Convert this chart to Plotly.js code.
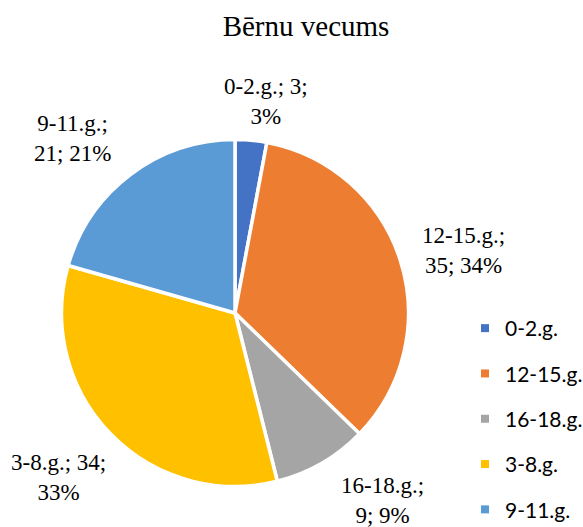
<!DOCTYPE html>
<html>
<head>
<meta charset="utf-8">
<script src="https://cdn.plot.ly/plotly-3.0.1.min.js"></script>
<style>html,body{margin:0;padding:0;background:#fff;}#chart{width:583px;height:527px;}</style>
</head>
<body>
<div id="chart"></div>
<script>
// Data
const categories = ["0-2.g.", "12-15.g.", "16-18.g.", "3-8.g.", "9-11.g."];
const values = [3, 35, 9, 34, 21];
// Label line break: after 'value' or after 'name'
const labelBreaks = ["value", "name", "name", "value", "name"];
const chartTitle = "Bērnu vecums";

// Styles
const colors = ["#4472C4", "#ED7D31", "#A5A5A5", "#FFC000", "#5B9BD5"];
const W = 583, H = 527;
const labelCenters = [[266, 101], [463, 250], [382, 500], [58, 477], [72, 139]];

const total = values.reduce((a, b) => a + b, 0);
const cx = 235, cy = 313, R = 173.5;

const pie = {
  type: "pie",
  labels: categories,
  values: values,
  sort: false,
  direction: "clockwise",
  rotation: 0,
  textinfo: "none",
  hoverinfo: "label+value+percent",
  marker: { colors: colors, line: { color: "#ffffff", width: 3.5 } },
  domain: { x: [(cx - R) / W, (cx + R) / W], y: [(H - cy - R) / H, (H - cy + R) / H] },
  showlegend: false
};

const legendTraces = categories.map((c, i) => ({
  type: "scatter",
  mode: "markers",
  x: [null], y: [null],
  name: c,
  legendgroup: "g" + i,
  marker: { symbol: "square", size: 8, color: colors[i] },
  hoverinfo: "skip",
  showlegend: true
}));

const annotations = categories.map((c, i) => {
  const pct = Math.round(values[i] / total * 100) + "%";
  const text = labelBreaks[i] === "value"
    ? c + "; " + values[i] + ";<br>" + pct
    : c + ";<br>" + values[i] + "; " + pct;
  return {
    text: text,
    xref: "paper", yref: "paper",
    x: labelCenters[i][0] / W, y: 1 - labelCenters[i][1] / H,
    xanchor: "center", yanchor: "middle",
    showarrow: false, align: "center",
    font: { family: "Liberation Serif, Times New Roman, serif", size: 23, color: "#000" }
  };
});

const layout = {
  width: W, height: H,
  margin: { l: 0, r: 0, t: 0, b: 0, autoexpand: false },
  paper_bgcolor: "#fff", plot_bgcolor: "#fff",
  title: {
    text: chartTitle,
    x: 306 / W, xanchor: "center", xref: "paper",
    y: 1 - 26 / H, yanchor: "middle", yref: "container",
    font: { family: "Liberation Serif, Times New Roman, serif", size: 29, color: "#000" }
  },
  xaxis: { visible: false }, yaxis: { visible: false },
  showlegend: true,
  legend: {
    x: 465 / W, xanchor: "left",
    y: 1 - 308 / H, yanchor: "top",
    tracegroupgap: 15,
    itemwidth: 30,
    font: { family: "Lato, Open Sans, sans-serif", size: 21, color: "#000" },
    bgcolor: "rgba(0,0,0,0)"
  },
  annotations: annotations
};

Plotly.newPlot("chart", [pie].concat(legendTraces), layout, { displayModeBar: false, staticPlot: true });
</script>
</body>
</html>
